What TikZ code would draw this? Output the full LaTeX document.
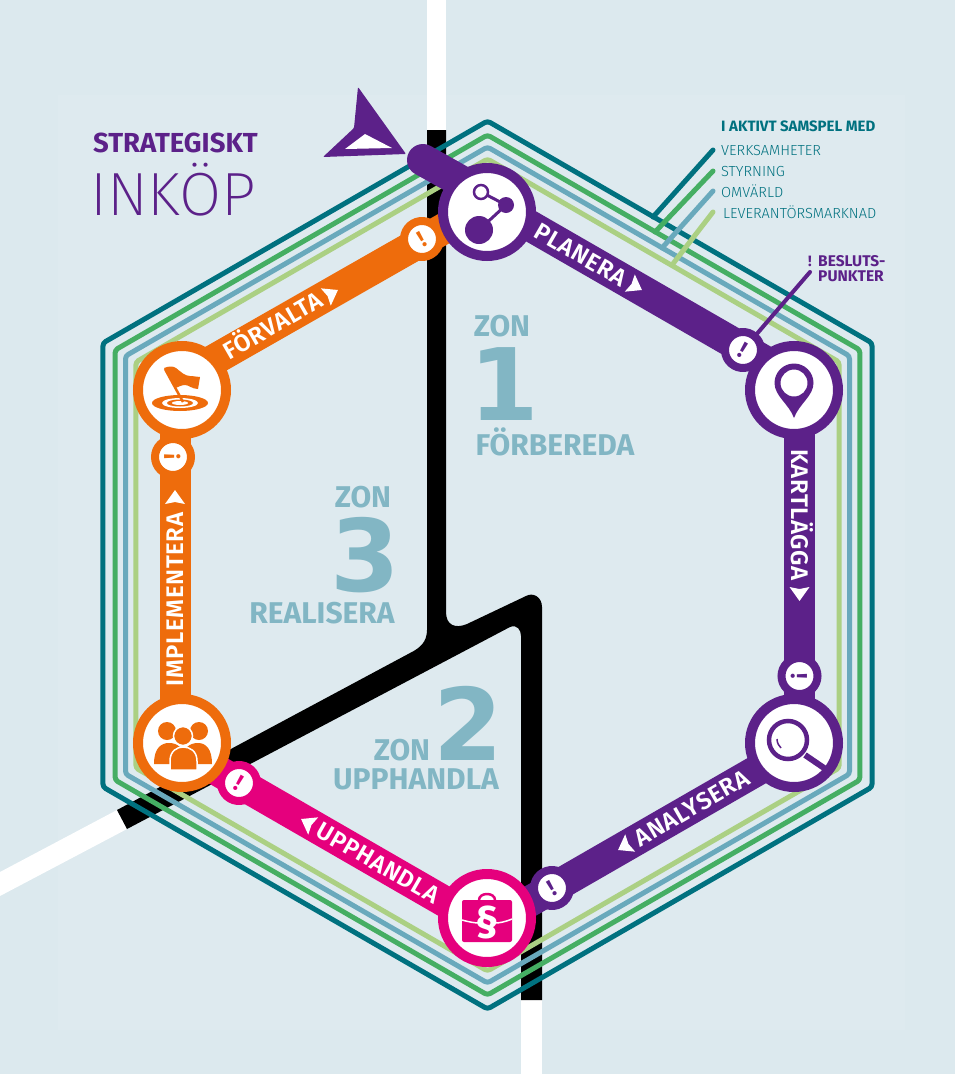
\documentclass[tikz,border=0pt]{standalone}
\usepackage{fontspec}
\setmainfont{Fira Sans}
\newfontfamily\lightfont{Fira Sans Light}
\newfontfamily\thinfont{Fira Sans ExtraLight}
\newfontfamily\semifont[LetterSpace=2.5]{Fira Sans SemiBold}
\newfontfamily\digitfont{DejaVu Sans Bold}
\usetikzlibrary{shapes}
\definecolor{bgblue}{HTML}{DCE9EE}
\definecolor{panelblue}{HTML}{DEEAEF}
\definecolor{tealline}{HTML}{00717F}
\definecolor{greenline}{HTML}{45AE63}
\definecolor{blueline}{HTML}{69A9BC}
\definecolor{limeline}{HTML}{ABD083}
\definecolor{zonblue}{HTML}{82B6C4}
\definecolor{planpurple}{HTML}{5C2189}
\definecolor{realorange}{HTML}{EE6C0C}
\definecolor{buypink}{HTML}{E5007D}
\newcommand{\fs}[1]{\fontsize{#1}{#1}\selectfont}
\tikzset{
  track/.style={line width=31pt, draw=#1, line cap=round},
  ring/.style={line width=5pt, line cap=round, rounded corners=3pt},
  station/.style={
    circle, draw=#1, fill=white, line width=10pt,
    minimum size=88pt, inner sep=0pt
  },
  dpoint/.style={
    circle, draw=#1, text=#1, fill=white, line width=8pt,
    minimum size=36pt, inner sep=0pt, font=\fs{23}\bfseries
  },
  lbl/.style={text=white, font=\semifont\fs{24}, inner sep=0pt, text height=16.5pt, text depth=0pt},
  zon/.style={text=zonblue, font=\fs{30}\bfseries, inner sep=0pt},
  numeral/.style={text=zonblue, font=\digitfont\fs{100}, inner sep=0pt},
  legend/.style={text=tealline, font=\lightfont\fs{14.6}, inner sep=0pt, anchor=west},
  tip/.pic={
    \fill[white] (-6,-10) -- (8,0) -- (-6,10) -- (-4,0) -- cycle;
  },
  hub/.pic={
    \draw[line width=3pt] (-6,-20) -- (19,-7) -- (-8,18);
    \fill (19,-7) circle [radius=8];
    \fill (-8,18) circle [radius=14];
    \draw[line width=2.5pt, fill=white] (-6,-20) circle [radius=7];
  },
  pin/.pic={
    \fill[even odd rule] (0,28) .. controls (-5,14) and (-19.5,6) .. (-19.5,-7)
      arc [start angle=180, end angle=360, radius=19.5]
      .. controls (19.5,6) and (5,14) .. (0,28) -- cycle
      (0,-7) circle [radius=13.5];
  },
  lens/.pic={
    \draw[line width=4.5pt] (-6,-3) circle [radius=19];
    \draw[line width=6pt] (11,12) -- (33,27);
    \draw[line width=1.5pt] (-17,-4) .. controls (-17,0) and (-15,3) .. (-13,5);
  },
  suitcase/.pic={
    \draw[line width=2.5pt] (-8,-18) .. controls (-8,-26) and (8,-26) .. (8,-18);
    \fill[rounded corners=2pt] (-25,-18) rectangle (25,24);
    \draw[white, line width=1.5pt] (-25,2) .. controls (-18,4) and (-12,5) .. (-8,5);
    \draw[white, line width=1.5pt] (8,5) .. controls (12,5) and (18,4) .. (25,1);
    \node[text=white, font=\fs{43}\bfseries, inner sep=0pt] (paragraph) at (0,4) {§};
  },
  people/.pic={
    \fill (-15,-12) circle [radius=9];
    \fill (17,-12) circle [radius=9];
    \fill (-28,21) .. controls (-28,4) and (-20,0) .. (-13,0)
      .. controls (-5,0) and (3,4) .. (3,21) -- cycle;
    \fill (0,21) .. controls (0,4) and (8,0) .. (16,0)
      .. controls (24,0) and (30,6) .. (30,21) -- cycle;
    \draw[white, line width=1.5pt, fill=realorange] (-12,27) -- (-12,18) .. controls (-12,8) and (-5,4) .. (1,4)
      .. controls (8,4) and (15,8) .. (15,18) -- (15,27) -- cycle;
    \draw[white, line width=1.5pt, fill=realorange] (1,-7) circle [radius=9.5];
  },
  flagtarget/.pic={
    \fill (-2,13) ellipse [x radius=28, y radius=8];
    \fill[white] (-2,13) ellipse [x radius=18, y radius=5];
    \fill (-2,13) ellipse [x radius=13, y radius=3.5];
    \fill[white] (-2,13) ellipse [x radius=8, y radius=2];
    \draw[line width=2.5pt] (1,12) -- (-17,-21);
    \fill (-18,-22) .. controls (-13,-24) and (-9,-24) .. (-6,-22)
      .. controls (-1,-18) and (3,-14) .. (8,-14)
      .. controls (12,-14) and (15,-13) .. (18,-13)
      -- (16,-1) .. controls (10,-1) and (7,-5) .. (3,-5)
      .. controls (-1,-5) and (-3,-3) .. (-7,-2) -- cycle;
  }
}

\begin{document}
\begin{tikzpicture}[x=1pt, y=-1pt]
  \useasboundingbox (0,0) rectangle (955,1074);
  \fill[bgblue] (0,0) rectangle (955,1074);
  \fill[panelblue] (58,95) rectangle (905,1030);
  % white roads
  \fill[white] (427,0) rectangle (446,130);
  \fill[white] (521,1000) rectangle (542,1074);
  \fill[white] (117,810) -- (127,829) -- (0,896) -- (0,872) -- cycle;
  % black roads
  \fill[black] (427,130) -- (427,630) .. controls (427,642) and (420,648) .. (410,653)
    -- (117,810) -- (127,829) -- (510,627) .. controls (517,624) and (521,630) .. (521,636)
    -- (521,1000) -- (542,1000) -- (542,607) .. controls (542,597) and (533,592) .. (526,596)
    -- (467,624) .. controls (455,629) and (446,625) .. (446,612) -- (446,130) -- cycle;
  % four rings
  \foreach \col/\r in {tealline/444,greenline/430,blueline/418,limeline/406} {
    \begin{scope}[shift={(487.5,565)}]
      \draw[ring, \col] (90:\r) -- (30:\r) -- (-30:\r) -- (-90:\r) -- (-150:\r) -- (150:\r) -- cycle;
    \end{scope}
  }
  \coordinate (stub) at (423,160);
  \coordinate (stubend) at (487,196);
  \coordinate (planT) at (487,201);
  \coordinate (mapT) at (799.5,381);
  \coordinate (analysT) at (799.5,746);
  \coordinate (buyT) at (487,926);
  \coordinate (implT) at (175,746);
  \coordinate (forvT) at (175,382);
  \coordinate (forvEnd) at (487,204);
  \draw[track=planpurple, line width=32pt] (stub) -- (stubend);
  \draw[track=realorange] (forvT) -- (forvEnd);
  \draw[track=realorange] (implT) -- (forvT);
  \draw[track=buypink] (buyT) -- (implT);
  \draw[track=planpurple] (planT) -- (mapT);
  \draw[track=planpurple] (mapT) -- (analysT);
  \draw[track=planpurple] (analysT) -- (buyT);
  % decision points
  \node[dpoint=planpurple, rotate=-30] (dpmap) at (743,350) {!};
  \node[dpoint=planpurple, rotate=-90] (dpanalys) at (799.5,676) {!};
  \node[dpoint=planpurple, rotate=30] (dpbuy) at (552,888) {!};
  \node[dpoint=buypink, rotate=-30] (dpimpl) at (239,783) {!};
  \node[dpoint=realorange, rotate=90] (dpforv) at (173,457) {!};
  \node[dpoint=realorange, rotate=30] (dpplan) at (422,239) {!};
  % stations
  \node[station=planpurple] (plan) at (487,212) {};
  \node[station=planpurple] (map) at (794,390) {};
  \node[station=planpurple] (analys) at (794,743) {};
  \node[station=buypink] (buy) at (487,918) {};
  \node[station=realorange] (impl) at (182,743) {};
  \node[station=realorange] (forv) at (182,390) {};
  \pic[planpurple] at (plan) {hub};
  \pic[planpurple] at (map) {pin};
  \pic[planpurple] at (analys) {lens};
  \pic[buypink] at (buy) {suitcase};
  \pic[realorange] at (impl) {people};
  \pic[realorange] at (forv) {flagtarget};
  % track labels
  \node[lbl, rotate=-30] (lplan) at (581,255) {PLANERA};
  \pic[rotate=-30] at (635,286) {tip};
  \node[lbl, rotate=-90] (lmap) at (799.5,515) {KARTLÄGGA};
  \pic[rotate=-90] at (799.5,593) {tip};
  \node[lbl, rotate=30] (lanalys) at (692,808) {ANALYSERA};
  \pic[rotate=210] at (625,846) {tip};
  \node[lbl, rotate=-30] (lbuy) at (378,863) {UPPHANDLA};
  \pic[rotate=150] at (308,823) {tip};
  \node[lbl, rotate=90] (limpl) at (175,599.5) {IMPLEMENTERA};
  \pic[rotate=90] at (175,498) {tip};
  \node[lbl, rotate=30] (lforv) at (273,326) {FÖRVALTA};
  \pic[rotate=30] at (331,294) {tip};
  % zones
  \node[zon] (zon1) at (502,326) {ZON};
  \node[numeral] (one) at (504,384) {1};
  \node[zon] (zon1name) at (555,442) {FÖRBEREDA};
  \node[zon] (zon3) at (363,497) {ZON};
  \node[numeral] (three) at (365,555) {3};
  \node[zon] (zon3name) at (322,613) {REALISERA};
  \node[zon] (zon2) at (402,750) {ZON};
  \node[numeral] (two) at (468,723) {2};
  \node[zon] (zon2name) at (416,779) {UPPHANDLA};
  % title
  \node[planpurple, font=\fs{27.5}\bfseries, inner sep=0pt, anchor=west] (strat) at (93,143) {STRATEGISKT};
  \node[planpurple, font=\thinfont\fs{61}, inner sep=0pt, anchor=west] (inkop) at (90,190) {INKÖP};
  % north arrow
  \fill[planpurple, rounded corners=1pt] (358,87) -- (406,154) -- (323,157) -- (354,128) -- cycle;
  \fill[white] (365,134) -- (392,148) -- (345,149) -- cycle;
  % legend
  \node[text=tealline, font=\fs{15}\bfseries, inner sep=0pt, anchor=west] (samspel) at (721,126) {I AKTIVT SAMSPEL MED};
  \node[legend] (verk) at (721,150) {VERKSAMHETER};
  \node[legend] (styr) at (721,171) {STYRNING};
  \node[legend] (omv) at (721,191) {OMVÄRLD};
  \node[legend] (lev) at (723,212) {LEVERANTÖRSMARKNAD};
  \coordinate (verkH) at (653,217);
  \coordinate (styrH) at (655,232);
  \coordinate (omvH) at (662,248);
  \coordinate (levH) at (672,265);
  \draw[tealline, ring] ([xshift=-8pt]verk.west) -- (verkH);
  \draw[greenline, ring] ([xshift=-8pt]styr.west) -- (styrH);
  \draw[blueline, ring] ([xshift=-8pt]omv.west) -- (omvH);
  \draw[limeline, ring] ([xshift=-10pt]lev.west) -- (levH);
  % decision legend
  \node[planpurple, font=\fs{15}\bfseries, inner sep=0pt] (bang) at (810,261) {!};
  \node[planpurple, font=\fs{15.5}\bfseries, inner sep=0pt, align=left, anchor=north west] (beslut) at (818,255) {BESLUTS-\\[0pt]PUNKTER};
  \coordinate (beslutH) at (810,272);
  \draw[planpurple, line width=4pt, line cap=round] (beslutH) -- (dpmap);
\end{tikzpicture}
\end{document}
